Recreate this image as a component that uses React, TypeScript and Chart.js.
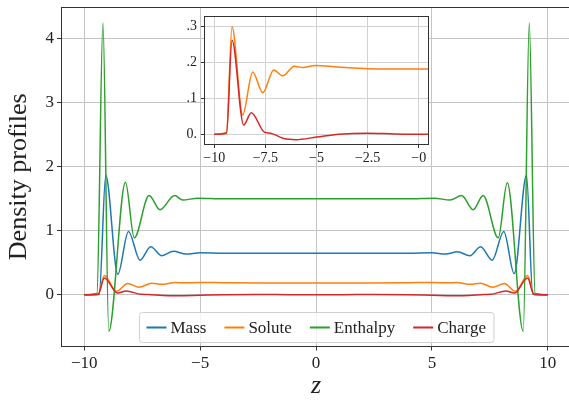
import { useEffect, useRef } from 'react';
import { Chart, registerables } from 'chart.js';

Chart.register(...registerables);

// ---- data ----
const massZ = [-10, -9.35, -9.07, -8.55, -8.09, -7.59, -7.13, -6.65, -6.15, -5.6, -5.0, -4.0, 0, 4.0, 5.0, 5.6, 6.1, 6.64, 7.1, 7.6, 8.1, 8.55, 9.08, 9.35, 10];
const massV = [0, 0.01, 1.87, 0.32, 0.99, 0.54, 0.75, 0.61, 0.68, 0.635, 0.655, 0.65, 0.65, 0.65, 0.655, 0.635, 0.67, 0.61, 0.75, 0.54, 0.99, 0.33, 1.87, 0.01, 0];

const soluteZ = [-10, -9.4, -9.13, -8.61, -8.12, -7.63, -7.09, -6.65, -6.08, -5.67, -5.05, -4.0, -2.5, 0, 2.5, 4.0, 5.05, 5.67, 6.08, 6.65, 7.09, 7.63, 8.12, 8.61, 9.13, 9.4, 10];
const soluteV = [0, 0.005, 0.3, 0.054, 0.174, 0.116, 0.179, 0.163, 0.19, 0.186, 0.192, 0.188, 0.183, 0.182, 0.183, 0.188, 0.192, 0.186, 0.19, 0.163, 0.179, 0.116, 0.174, 0.054, 0.3, 0.005, 0];

const enthalpyZ = [-10, -9.45, -9.19, -8.94, -8.22, -7.84, -7.2, -6.73, -6.1, -5.75, -5.1, -4.0, 0, 4.0, 5.1, 5.78, 6.28, 6.78, 7.21, 7.86, 8.25, 8.94, 9.2, 9.45, 10];
const enthalpyV = [0, 0.02, 4.25, -0.57, 1.76, 0.89, 1.55, 1.33, 1.55, 1.48, 1.51, 1.5, 1.5, 1.5, 1.51, 1.48, 1.55, 1.33, 1.55, 0.89, 1.75, -0.57, 4.25, 0.02, 0];

const chargeZ = [-10, -9.4, -9.13, -8.56, -8.19, -7.55, -7.25, -6.6, -6.0, -5.0, -3.9, -2.5, -1.2, 0, 1.2, 2.5, 3.9, 5.0, 6.0, 6.6, 7.25, 7.55, 8.19, 8.56, 9.13, 9.4, 10];
const chargeV = [0, 0.003, 0.262, 0.026, 0.06, 0.006, 0.003, -0.012, -0.015, -0.008, 0.0, 0.003, 0.001, 0, 0.001, 0.003, 0.0, -0.008, -0.015, -0.012, 0.003, 0.006, 0.06, 0.026, 0.262, 0.003, 0];

const seriesLabels = ['Mass', 'Solute', 'Enthalpy', 'Charge'];
const seriesColors = ['#1f77b4', '#ff7f0e', '#2ca02c', '#d62728'];

const mainXTicks = [-10, -5, 0, 5, 10];
const mainXLabels = ['\u221210', '\u22125', '0', '5', '10'];
const mainYTicks = [0, 1, 2, 3, 4];
const mainYLabels = ['0', '1', '2', '3', '4'];

const insetXTicks = [-10, -7.5, -5, -2.5, 0];
const insetXLabels = ['\u221210', '\u22127.5', '\u22125', '\u22122.5', '\u22120'];
const insetYTicks = [0, 0.1, 0.2, 0.3];
const insetYLabels = ['0.', '.1', '.2', '.3'];

const FONT = '"Liberation Serif", "Times New Roman", serif';
const TEXT = '#222222';

const pts = (z: number[], v: number[]) => z.map((x, i) => ({ x, y: v[i] }));

const labelFor = (ticks: number[], labels: string[]) => (value: any) => {
  const i = ticks.findIndex((t) => Math.abs(t - Number(value)) < 1e-9);
  return i >= 0 ? labels[i] : '';
};

const framePlugin = (whiteFill: boolean) => ({
  id: 'frame' + (whiteFill ? 'W' : ''),
  beforeDraw(chart: any) {
    if (!whiteFill) return;
    const { ctx, chartArea } = chart;
    ctx.save();
    ctx.fillStyle = '#ffffff';
    ctx.fillRect(chartArea.left, chartArea.top, chartArea.right - chartArea.left, chartArea.bottom - chartArea.top);
    ctx.restore();
  },
  afterDraw(chart: any) {
    const { ctx, chartArea } = chart;
    const l = Math.round(chartArea.left) + 0.5;
    const t = Math.round(chartArea.top) + 0.5;
    const r = Math.round(chartArea.right) - 0.5;
    const b = Math.round(chartArea.bottom) - 0.5;
    ctx.save();
    ctx.strokeStyle = '#333333';
    ctx.lineWidth = 1;
    ctx.strokeRect(l, t, r - l, b - t);
    ctx.restore();
  },
});

const legendPlugin = {
  id: 'boxLegend',
  afterDraw(chart: any) {
    const { ctx, chartArea } = chart;
    ctx.save();
    ctx.font = `17px ${FONT}`;
    const items = chart.data.datasets.map((d: any) => ({
      label: d.label,
      color: d.borderColor,
      w: ctx.measureText(d.label).width,
    }));
    const padL = 7, padR = 8, line = 20, gap = 4, itemGap = 18, h = 30;
    const total =
      padL + padR + items.reduce((s: number, it: any) => s + line + gap + it.w, 0) + itemGap * (items.length - 1);
    const cx = (chartArea.left + chartArea.right) / 2;
    const x0 = Math.round(cx - total / 2) + 0.5;
    const y0 = Math.round(chartArea.bottom - 35) + 0.5;
    ctx.beginPath();
    ctx.roundRect(x0, y0, total, h, 3);
    ctx.fillStyle = 'rgba(255,255,255,0.8)';
    ctx.fill();
    ctx.strokeStyle = '#d0d0d0';
    ctx.lineWidth = 1;
    ctx.stroke();
    let x = x0 + padL;
    const yc = y0 + h / 2;
    for (const it of items) {
      ctx.strokeStyle = it.color;
      ctx.lineWidth = 2;
      ctx.beginPath();
      ctx.moveTo(x, yc);
      ctx.lineTo(x + line, yc);
      ctx.stroke();
      x += line + gap;
      ctx.fillStyle = TEXT;
      ctx.textBaseline = 'middle';
      ctx.textAlign = 'left';
      ctx.fillText(it.label, x, yc + 1);
      x += it.w + itemGap;
    }
    ctx.restore();
  },
};

export default function App() {
  const mainRef = useRef<HTMLCanvasElement>(null);
  const insetRef = useRef<HTMLCanvasElement>(null);

  useEffect(() => {
    const lineDs = (i: number, z: number[], v: number[], order: number) => ({
      label: seriesLabels[i],
      data: pts(z, v),
      borderColor: seriesColors[i],
      backgroundColor: seriesColors[i],
      borderWidth: 1.5,
      pointRadius: 0,
      fill: false,
      cubicInterpolationMode: 'monotone' as const,
      order,
    });

    const main = new Chart(mainRef.current as HTMLCanvasElement, {
      type: 'line',
      data: {
        datasets: [
          lineDs(0, massZ, massV, 3),
          lineDs(1, soluteZ, soluteV, 2),
          lineDs(2, enthalpyZ, enthalpyV, 1),
          lineDs(3, chargeZ, chargeV, 0),
        ],
      },
      options: {
        responsive: false,
        animation: false,
        devicePixelRatio: 1,
        layout: { padding: { top: 7, left: 0, right: 0, bottom: 0 } },
        plugins: { legend: { display: false }, tooltip: { enabled: false } },
        scales: {
          x: {
            type: 'linear',
            min: -11,
            max: 11,
            afterBuildTicks: (s: any) => {
              s.ticks = mainXTicks.map((v) => ({ value: v }));
            },
            afterFit: (s: any) => {
              s.height = 59.5;
              s.paddingLeft = 0;
              s.paddingRight = 0;
            },
            border: { display: false },
            grid: { color: '#c4c4c4', lineWidth: 1, tickLength: 4, tickColor: '#333333', drawTicks: true },
            ticks: {
              font: { family: FONT, size: 17 },
              color: TEXT,
              padding: 3,
              maxRotation: 0,
              autoSkip: false,
              callback: labelFor(mainXTicks, mainXLabels),
            },
            title: {
              display: true,
              text: 'z',
              color: TEXT,
              font: { family: FONT, size: 26, style: 'italic' },
              padding: { top: 0, bottom: 4 },
            },
          },
          y: {
            type: 'linear',
            min: -0.81,
            max: 4.5,
            afterBuildTicks: (s: any) => {
              s.ticks = mainYTicks.map((v) => ({ value: v }));
            },
            afterFit: (s: any) => {
              s.width = 61;
              s.paddingTop = 0;
              s.paddingBottom = 0;
            },
            border: { display: false },
            grid: { color: '#c4c4c4', lineWidth: 1, tickLength: 4, tickColor: '#333333', drawTicks: true },
            ticks: {
              font: { family: FONT, size: 17 },
              color: TEXT,
              padding: 3,
              autoSkip: false,
              callback: labelFor(mainYTicks, mainYLabels),
            },
            title: {
              display: true,
              text: 'Density profiles',
              color: TEXT,
              font: { family: FONT, size: 26 },
              padding: { top: 4, bottom: 0 },
            },
          },
        },
      },
      plugins: [framePlugin(false), legendPlugin],
    } as any);

    const inset = new Chart(insetRef.current as HTMLCanvasElement, {
      type: 'line',
      data: {
        datasets: [lineDs(1, soluteZ, soluteV, 1), lineDs(3, chargeZ, chargeV, 0)],
      },
      options: {
        responsive: false,
        animation: false,
        devicePixelRatio: 1,
        layout: { padding: { top: 8, left: 0, right: 11, bottom: 0 } },
        plugins: { legend: { display: false }, tooltip: { enabled: false } },
        scales: {
          x: {
            type: 'linear',
            min: -10.5,
            max: 0.5,
            afterBuildTicks: (s: any) => {
              s.ticks = insetXTicks.map((v) => ({ value: v }));
            },
            afterFit: (s: any) => {
              s.height = 28;
              s.paddingLeft = 0;
              s.paddingRight = 0;
            },
            border: { display: false },
            grid: { color: '#d2d2d2', lineWidth: 1, tickLength: 3, tickColor: '#333333', drawTicks: true },
            ticks: {
              font: { family: FONT, size: 14 },
              color: TEXT,
              padding: 2,
              maxRotation: 0,
              autoSkip: false,
              callback: labelFor(insetXTicks, insetXLabels),
            },
          },
          y: {
            type: 'linear',
            min: -0.03,
            max: 0.33,
            afterBuildTicks: (s: any) => {
              s.ticks = insetYTicks.map((v) => ({ value: v }));
            },
            afterFit: (s: any) => {
              s.width = 34;
              s.paddingTop = 0;
              s.paddingBottom = 0;
            },
            border: { display: false },
            grid: { color: '#d2d2d2', lineWidth: 1, tickLength: 3, tickColor: '#333333', drawTicks: true },
            ticks: {
              font: { family: FONT, size: 14 },
              color: TEXT,
              padding: 4,
              autoSkip: false,
              callback: labelFor(insetYTicks, insetYLabels),
            },
          },
        },
      },
      plugins: [framePlugin(true)],
    } as any);

    return () => {
      main.destroy();
      inset.destroy();
    };
  }, []);

  return (
    <div
      style={{
        position: 'absolute',
        left: 0,
        top: 0,
        width: 569,
        height: 406,
        overflow: 'hidden',
        background: '#ffffff',
      }}
    >
      <canvas
        ref={mainRef}
        width={571}
        height={406}
        style={{ position: 'absolute', left: 0, top: 0, width: 571, height: 406 }}
      />
      <canvas
        ref={insetRef}
        width={270}
        height={165}
        style={{ position: 'absolute', left: 170, top: 8, width: 270, height: 165 }}
      />
    </div>
  );
}
